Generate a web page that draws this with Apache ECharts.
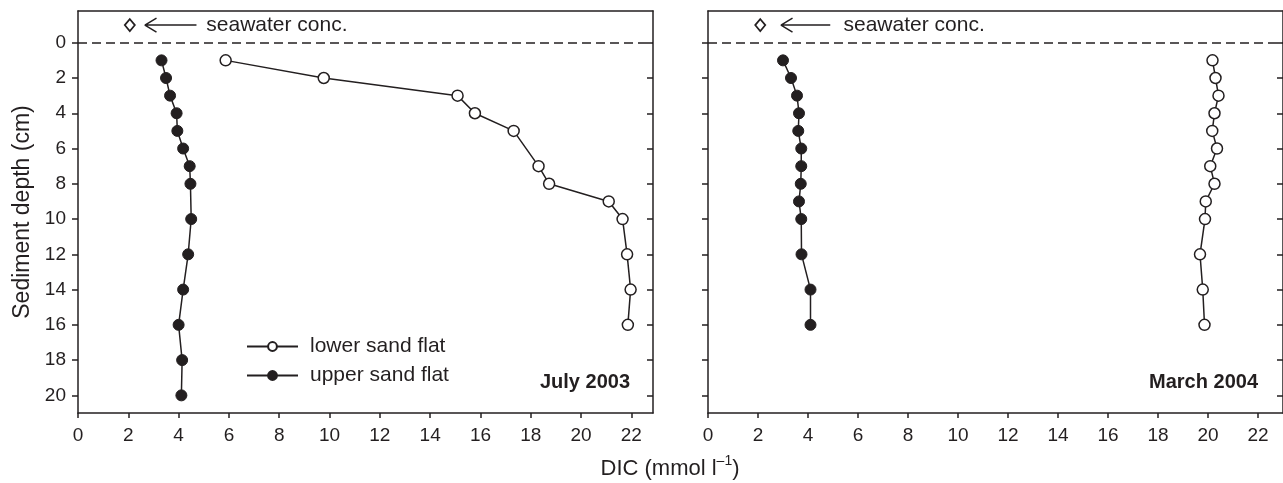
<!DOCTYPE html>
<html>
<head>
<meta charset="utf-8">
<script src="https://cdn.jsdelivr.net/npm/echarts@6/dist/echarts.min.js"></script>
<style>html,body{margin:0;padding:0;background:#fff}#c{width:1283px;height:483px}</style>
</head>
<body>
<div id="c"></div>
<script>
// ---- data ----
const xTicks = [0, 2, 4, 6, 8, 10, 12, 14, 16, 18, 20, 22];
const yTicks = [0, 2, 4, 6, 8, 10, 12, 14, 16, 18, 20];

const depthLowJul = [1, 2, 3, 4, 5, 7, 8, 9, 10, 12, 14, 16];
const dicLowJul   = [5.87, 9.77, 15.09, 15.78, 17.32, 18.31, 18.73, 21.1, 21.65, 21.83, 21.97, 21.86];
const depthUpJul  = [1, 2, 3, 4, 5, 6, 7, 8, 10, 12, 14, 16, 18, 20];
const dicUpJul    = [3.32, 3.5, 3.66, 3.92, 3.95, 4.18, 4.44, 4.47, 4.5, 4.38, 4.18, 4.0, 4.14, 4.11];

const depthLowMar = [1, 2, 3, 4, 5, 6, 7, 8, 9, 10, 12, 14, 16];
const dicLowMar   = [20.18, 20.3, 20.42, 20.26, 20.17, 20.36, 20.09, 20.26, 19.91, 19.88, 19.68, 19.79, 19.86];
const depthUpMar  = [1, 2, 3, 4, 5, 6, 7, 8, 9, 10, 12, 14, 16];
const dicUpMar    = [3.0, 3.32, 3.56, 3.64, 3.61, 3.73, 3.73, 3.71, 3.64, 3.73, 3.74, 4.1, 4.1];

const seawaterDepth = -1;
const seawaterDIC = [2.06, 2.09];      // July, March
const arrowTip  = [2.66, 2.92];
const arrowTail = [4.71, 4.89];
const noteX     = [5.1, 5.42];
const panelTitles = ['July 2003', 'March 2004'];
const seriesNames = ['lower sand flat', 'upper sand flat'];

// ---- chart ----
const INK = '#231f20';
const FONT = '"Liberation Sans", Arial, Helvetica, sans-serif';
const zip = (xs, ys) => xs.map((x, i) => [x, ys[i]]);

function xAxes(gi, max) {
  return [
    { type: 'value', gridIndex: gi, min: 0, max: max, position: 'bottom',
      axisLine: { show: true, onZero: false, lineStyle: { color: INK, width: 1.5 } },
      axisTick: { show: true, length: 5, customValues: xTicks, lineStyle: { color: INK, width: 1.5 } },
      axisLabel: { customValues: xTicks, fontSize: 19, color: INK, fontFamily: FONT, margin: 13 },
      splitLine: { show: false } },
    { type: 'value', gridIndex: gi, min: 0, max: max, position: 'top',
      axisLine: { show: true, onZero: false, lineStyle: { color: INK, width: 1.5 } },
      axisTick: { show: false }, axisLabel: { show: false }, splitLine: { show: false } }
  ];
}
function yAxes(gi, showLabels) {
  return [
    { type: 'value', gridIndex: gi, min: -1.8, max: 21, inverse: true, position: 'left',
      name: showLabels ? 'Sediment depth (cm)' : '', nameLocation: 'middle', nameGap: 44,
      nameTextStyle: { fontSize: 23, color: INK, fontFamily: FONT },
      axisLine: { show: true, onZero: false, lineStyle: { color: INK, width: 1.5 } },
      axisTick: { show: true, length: 6, customValues: yTicks, lineStyle: { color: INK, width: 1.5 } },
      axisLabel: { show: showLabels, customValues: yTicks, fontSize: 19, color: INK, fontFamily: FONT, margin: 12 },
      splitLine: { show: false } },
    { type: 'value', gridIndex: gi, min: -1.8, max: 21, inverse: true, position: 'right',
      axisLine: { show: true, onZero: false, lineStyle: { color: INK, width: 1.5 } },
      axisTick: { show: true, inside: true, length: 6, customValues: yTicks, lineStyle: { color: INK, width: 1.5 } },
      axisLabel: { show: false }, splitLine: { show: false } }
  ];
}

function profile(name, data, xi, yi, open, withLine) {
  const s = {
    name: name, type: 'line', xAxisIndex: xi, yAxisIndex: yi, data: data,
    symbol: 'circle', symbolSize: 11,
    lineStyle: { color: INK, width: 1.5 },
    itemStyle: open ? { color: '#ffffff', borderColor: INK, borderWidth: 1.5 }
                    : { color: INK, borderColor: INK, borderWidth: 1 },
    z: 5
  };
  if (withLine) {
    s.markLine = {
      silent: true, symbol: 'none', label: { show: false },
      lineStyle: { color: INK, width: 1.5, type: [9, 5] },
      data: [{ yAxis: 0 }]
    };
  }
  return s;
}

function annotation(p, xi, yi) {
  const tip = arrowTip[p], tail = arrowTail[p];
  return [
    { type: 'scatter', xAxisIndex: xi, yAxisIndex: yi, silent: true,
      data: [[seawaterDIC[p], seawaterDepth]], symbol: 'diamond', symbolSize: [10, 12],
      itemStyle: { color: '#ffffff', borderColor: INK, borderWidth: 1.8, opacity: 1 } },
    { type: 'line', xAxisIndex: xi, yAxisIndex: yi, silent: true, symbol: 'none',
      lineStyle: { color: INK, width: 1.5, opacity: 1 },
      data: [[tail, seawaterDepth], [tip, seawaterDepth], [tip + 0.46, seawaterDepth - 0.4],
             [tip, seawaterDepth], [tip + 0.46, seawaterDepth + 0.4]] },
    { type: 'scatter', xAxisIndex: xi, yAxisIndex: yi, silent: true,
      data: [[noteX[p], seawaterDepth]], symbolSize: 0,
      itemStyle: { opacity: 1 },
      label: { show: true, position: 'right', distance: 0, formatter: 'seawater conc.',
               fontSize: 21, color: INK, opacity: 1, fontFamily: FONT } }
  ];
}

const option = {
  animation: false,
  backgroundColor: '#ffffff',
  textStyle: { fontFamily: FONT },
  grid: [
    { left: 78, top: 11, width: 575, height: 402 },
    { left: 708, top: 11, width: 575, height: 402 }
  ],
  xAxis: [...xAxes(0, 22.86), ...xAxes(1, 23)],
  yAxis: [...yAxes(0, true), ...yAxes(1, false)],
  title: [
    { text: panelTitles[0], right: 1283 - 630, top: 372, padding: 0,
      textStyle: { fontSize: 20, fontWeight: 'bold', color: INK, fontFamily: FONT } },
    { text: panelTitles[1], right: 1283 - 1258, top: 372, padding: 0,
      textStyle: { fontSize: 20, fontWeight: 'bold', color: INK, fontFamily: FONT } }
  ],
  legend: {
    data: seriesNames, orient: 'vertical', left: 246, top: 336, padding: 0,
    itemWidth: 51, itemHeight: 11, itemGap: 8,
    textStyle: { fontSize: 21, color: INK, fontFamily: FONT, padding: [0, 0, 0, 7] }
  },
  graphic: [
    { type: 'text', x: 670, y: 467, silent: true,
      style: { text: '{a|DIC (mmol l}{s|–1}{a|)}', align: 'center', verticalAlign: 'middle',
               fill: INK,
               rich: { a: { fontSize: 22, fontFamily: FONT, fill: INK, lineHeight: 25, verticalAlign: 'bottom' },
                       s: { fontSize: 14, fontFamily: FONT, fill: INK, lineHeight: 25, verticalAlign: 'top' } } } }
  ],
  series: [
    profile(seriesNames[0], zip(dicLowJul, depthLowJul), 0, 0, true, true),
    profile(seriesNames[1], zip(dicUpJul, depthUpJul), 0, 0, false, false),
    profile(seriesNames[0], zip(dicLowMar, depthLowMar), 2, 2, true, true),
    profile(seriesNames[1], zip(dicUpMar, depthUpMar), 2, 2, false, false),
    ...annotation(0, 0, 0),
    ...annotation(1, 2, 2)
  ]
};

const chart = echarts.init(document.getElementById('c'), null, { renderer: 'canvas' });
chart.setOption(option);
</script>
</body>
</html>
